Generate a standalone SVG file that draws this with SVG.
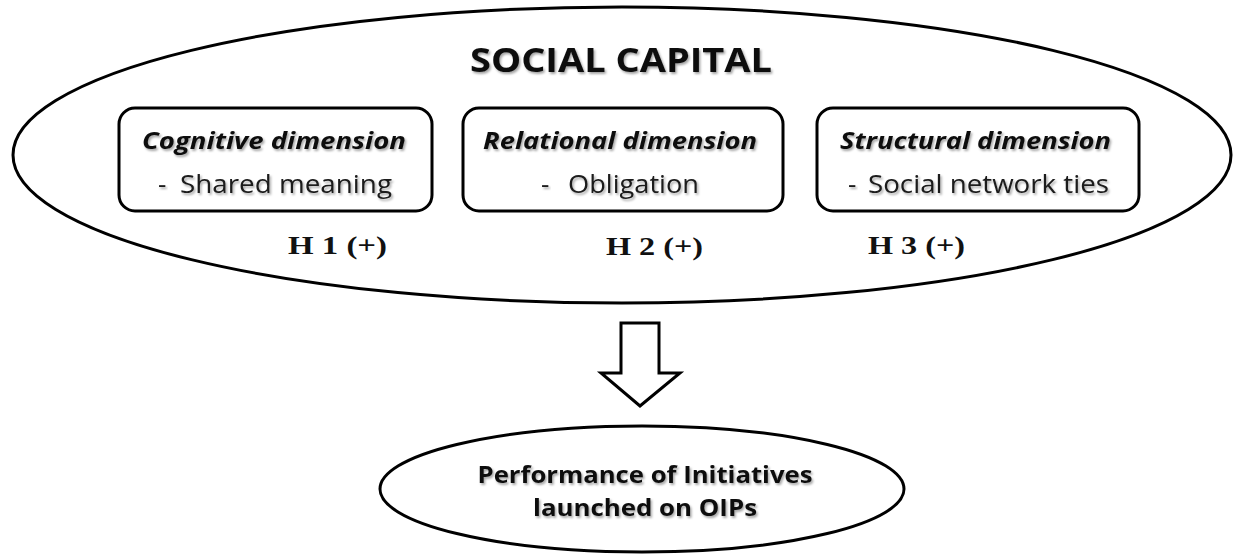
<svg xmlns="http://www.w3.org/2000/svg" width="1234" height="555" viewBox="0 0 1234 555">
  <defs>
    <filter id="shadow" x="-10%" y="-30%" width="120%" height="160%">
      <feDropShadow dx="1.5" dy="2" stdDeviation="1.2" flood-color="#000" flood-opacity="0.35"/>
    </filter>
  </defs>
  <style>
    .shape { fill: #ffffff; stroke: #000000; stroke-width: 3; }
    .sans { font-family: "Open Sans", "Liberation Sans", sans-serif; fill: #111111; filter: url(#shadow); }
    .title { font-size: 34px; font-weight: bold; }
    .head { font-size: 24px; font-weight: bold; font-style: italic; }
    .item { font-size: 26px; fill: #1a1a1a; }
    .hyp { font-family: "Liberation Serif", "Times New Roman", serif; font-size: 26px; font-weight: bold; fill: #111111; }
    .perf { font-size: 23px; font-weight: bold; }
  </style>

  <g id="social-capital">
    <ellipse class="shape" cx="622" cy="155" rx="609" ry="148"/>
    <text class="sans title" x="621" y="72" text-anchor="middle" textLength="302" lengthAdjust="spacingAndGlyphs">SOCIAL CAPITAL</text>
  </g>

  <g id="cognitive">
    <rect class="shape" x="119" y="108" width="313" height="103" rx="16" ry="16"/>
    <text class="sans head" x="142" y="149" textLength="264" lengthAdjust="spacingAndGlyphs">Cognitive dimension</text>
    <text class="sans item" x="158" y="193">-</text>
    <text class="sans item" x="180" y="193" textLength="212" lengthAdjust="spacingAndGlyphs">Shared meaning</text>
  </g>

  <g id="relational">
    <rect class="shape" x="463" y="108" width="320" height="103" rx="16" ry="16"/>
    <text class="sans head" x="483" y="149" textLength="274" lengthAdjust="spacingAndGlyphs">Relational dimension</text>
    <text class="sans item" x="541" y="193">-</text>
    <text class="sans item" x="568" y="193" textLength="131" lengthAdjust="spacingAndGlyphs">Obligation</text>
  </g>

  <g id="structural">
    <rect class="shape" x="817" y="108" width="322" height="103" rx="16" ry="16"/>
    <text class="sans head" x="840" y="149" textLength="271" lengthAdjust="spacingAndGlyphs">Structural dimension</text>
    <text class="sans item" x="848" y="193">-</text>
    <text class="sans item" x="868" y="193" textLength="241" lengthAdjust="spacingAndGlyphs">Social network ties</text>
  </g>

  <g id="hypotheses">
    <text class="hyp" x="288" y="254" textLength="99" lengthAdjust="spacingAndGlyphs">H 1 (+)</text>
    <text class="hyp" x="606" y="255" textLength="97" lengthAdjust="spacingAndGlyphs">H 2 (+)</text>
    <text class="hyp" x="868" y="254" textLength="97" lengthAdjust="spacingAndGlyphs">H 3 (+)</text>
  </g>

  <g id="connectors">
    <path class="shape" stroke-linejoin="miter" d="M621,323 L659,323 L659,373 L680,373 L640,406 L601,373 L621,373 Z"/>
  </g>

  <g id="performance">
    <ellipse class="shape" cx="642" cy="489" rx="262" ry="63"/>
    <text class="sans perf" x="645" y="483" text-anchor="middle" textLength="335" lengthAdjust="spacingAndGlyphs">Performance of Initiatives</text>
    <text class="sans perf" x="645" y="516" text-anchor="middle" textLength="224" lengthAdjust="spacingAndGlyphs">launched on OIPs</text>
  </g>
</svg>
